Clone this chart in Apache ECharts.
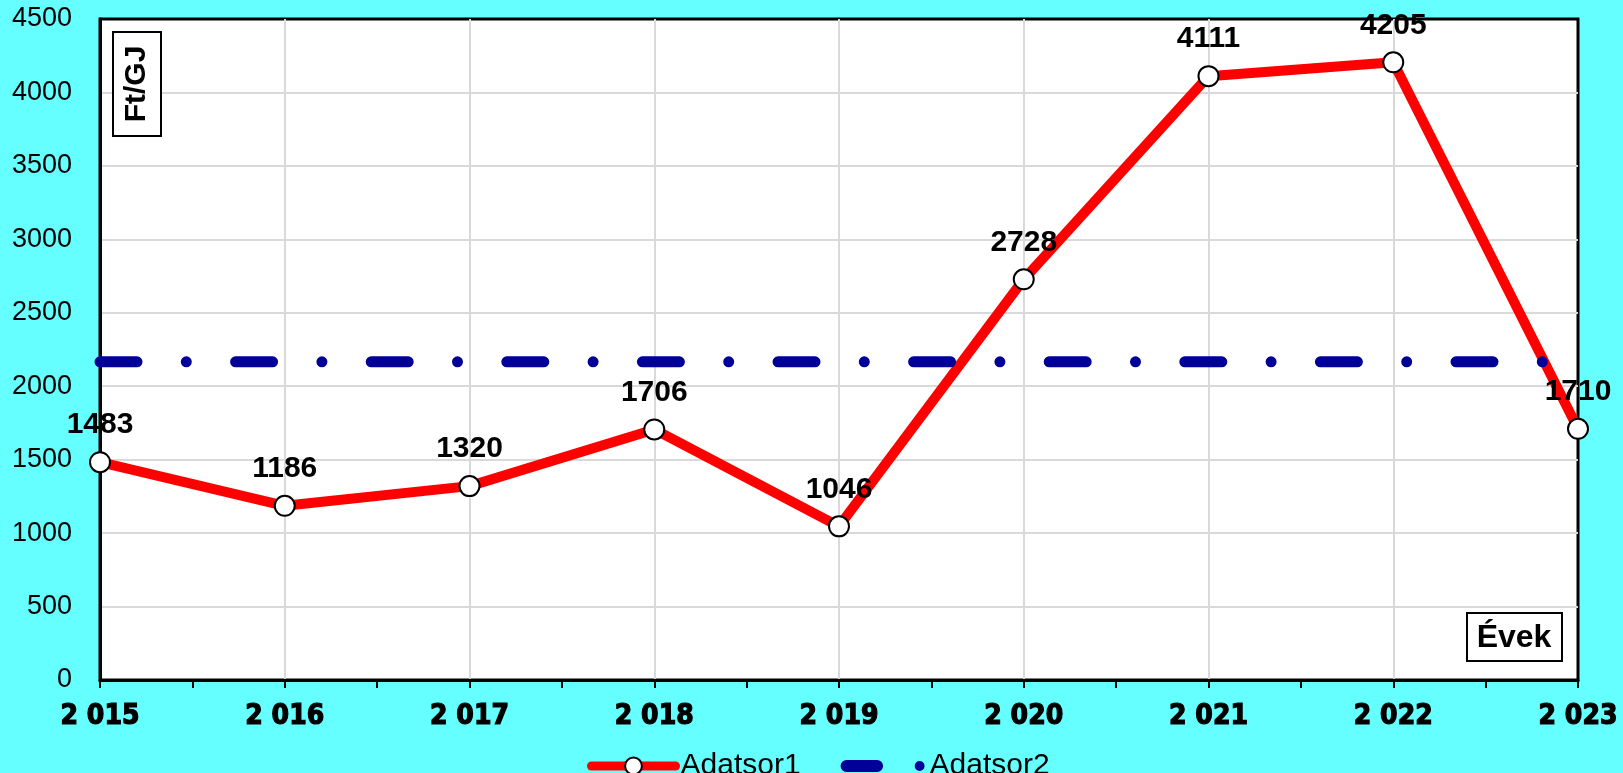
<!DOCTYPE html>
<html>
<head>
<meta charset="utf-8">
<script src="https://cdn.jsdelivr.net/npm/echarts@6/dist/echarts.min.js"></script>
<style>
  html, body { margin: 0; padding: 0; background: #66ffff; }
  #main { width: 1623px; height: 773px; }
</style>
</head>
<body>
<div id="main"></div>
<script>
// Data
var years = [2015, 2016, 2017, 2018, 2019, 2020, 2021, 2022, 2023];
var tickLabels = ['2 015', '2 016', '2 017', '2 018', '2 019', '2 020', '2 021', '2 022', '2 023'];
var adatsor1 = [1483, 1186, 1320, 1706, 1046, 2728, 4111, 4205, 1710];
var adatsor2 = [2166, 2166, 2166, 2166, 2166, 2166, 2166, 2166, 2166];

var chartDom = document.getElementById('main');
var myChart = echarts.init(chartDom);
var option;

function pairs(vals) {
  return years.map(function (y, i) { return [y, vals[i]]; });
}

var dashPattern = [37, 49.3, 0, 49.3];
// legend icon: dash + dot
var dashDotIcon = 'path://M6,0 H37 A6,6 0 0 1 37,12 H6 A6,6 0 0 1 6,0 Z ' +
  'M75,6 a5,5 0 1 0 10,0 a5,5 0 1 0 -10,0 Z';

option = {
  backgroundColor: '#66ffff',
  animation: false,
  grid: {
    left: 100,
    right: 45,
    top: 19,
    bottom: 93,
    show: true,
    backgroundColor: '#ffffff',
    borderColor: '#000000',
    borderWidth: 3
  },
  legend: {
    left: 582,
    top: 746,
    itemWidth: 84,
    itemHeight: 21,
    itemGap: 40,
    textStyle: {
      fontFamily: 'Liberation Sans',
      fontSize: 30,
      color: '#000'
    },
    data: [
      {
        name: 'Adatsor1',
        lineStyle: { width: 9, cap: 'round' }
      },
      {
        name: 'Adatsor2',
        icon: dashDotIcon
      }
    ]
  },
  xAxis: {
    type: 'value',
    min: 2015,
    max: 2023,
    interval: 1,
    axisLine: { lineStyle: { color: '#000', width: 3 } },
    axisTick: { show: true, length: 8, lineStyle: { color: '#000', width: 2 } },
    minorTick: { show: true, splitNumber: 2, length: 8, lineStyle: { color: '#000', width: 2 } },
    splitLine: { show: true, showMinLine: false, showMaxLine: false, lineStyle: { color: '#d9d9d9', width: 2 } },
    axisLabel: {
      margin: 23,
      fontFamily: '"Liberation Sans Narrow", "DejaVu Sans Condensed", "Liberation Sans", sans-serif',
      fontWeight: 'bold',
      fontSize: 28,
      color: '#000',
      textBorderColor: '#000',
      textBorderWidth: 1.2,
      formatter: function (v) {
        var i = years.indexOf(v);
        return i >= 0 ? tickLabels[i] : '';
      }
    }
  },
  yAxis: {
    type: 'value',
    min: 0,
    max: 4500,
    interval: 500,
    axisLine: { show: true, lineStyle: { color: '#000', width: 3 } },
    axisTick: { show: false },
    splitLine: { show: true, showMinLine: false, showMaxLine: false, lineStyle: { color: '#d9d9d9', width: 2 } },
    axisLabel: {
      margin: 28,
      fontFamily: 'Liberation Sans',
      fontSize: 27,
      color: '#000',
      formatter: function (v) { return String(v); }
    }
  },
  graphic: [
    {
      type: 'rect',
      z: 100,
      shape: { x: 113, y: 32, width: 48, height: 104 },
      style: { fill: '#fff', stroke: '#000', lineWidth: 2 }
    },
    {
      type: 'text',
      z: 101,
      x: 137,
      y: 84,
      rotation: Math.PI / 2,
      style: {
        text: 'Ft/GJ',
        font: 'bold 30px "Liberation Sans"',
        fill: '#000',
        align: 'center',
        verticalAlign: 'middle'
      }
    },
    {
      type: 'rect',
      z: 100,
      shape: { x: 1467, y: 613, width: 95, height: 48 },
      style: { fill: '#fff', stroke: '#000', lineWidth: 2 }
    },
    {
      type: 'text',
      z: 101,
      x: 1514,
      y: 638,
      style: {
        text: 'Évek',
        font: 'bold 32px "Liberation Sans"',
        fill: '#000',
        align: 'center',
        verticalAlign: 'middle'
      }
    }
  ],
  series: [
    {
      name: 'Adatsor1',
      type: 'line',
      clip: false,
      data: pairs(adatsor1),
      symbol: 'circle',
      symbolSize: 20,
      itemStyle: { color: '#ffffff', borderColor: '#000', borderWidth: 2 },
      lineStyle: { color: '#ff0000', width: 10, cap: 'round', join: 'round' },
      label: {
        show: true,
        position: 'top',
        distance: 11,
        fontFamily: 'Liberation Sans',
        fontWeight: 'bold',
        fontSize: 30,
        color: '#000'
      },
      z: 2
    },
    {
      name: 'Adatsor2',
      type: 'line',
      data: pairs(adatsor2),
      symbol: 'none',
      itemStyle: { color: '#000099' },
      lineStyle: { color: '#000099', width: 11, type: dashPattern, cap: 'round' },
      z: 3
    }
  ]
};

option && myChart.setOption(option);
</script>
</body>
</html>
